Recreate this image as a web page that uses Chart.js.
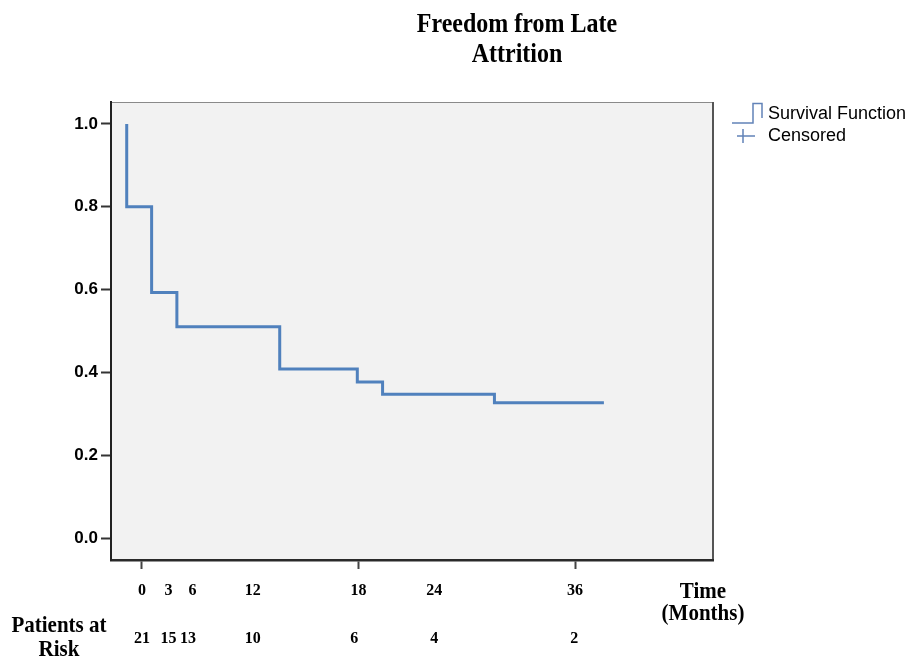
<!DOCTYPE html>
<html>
<head>
<meta charset="utf-8">
<script src="https://cdn.jsdelivr.net/npm/chart.js@4.4.0/dist/chart.umd.min.js"></script>
<style>
  html, body { margin: 0; padding: 0; background: #ffffff; }
  .container { width: 916px; height: 659px; }
</style>
</head>
<body>
<div class="container">
  <canvas id="km_chart" width="916" height="659"></canvas>
</div>
<script>
// step curve (time in months, survival)
const times = [-1.27, -1.27, 0.8, 2.9, 11.45, 17.9, 20.0, 29.3, 38.4]
const survival = [1.0, 0.8, 0.593, 0.51, 0.408, 0.377, 0.347, 0.327, 0.327]

// x labels as printed under the axis, and where they sit on the axis
const tickText = ['0', '3', '6', '12', '18', '24', '36']
const tickAt = [0, 2.2, 4.2, 9.2, 18, 24.3, 36]
const tickMarks = [0, 18, 36]

// patients at risk row
const riskText = ['21', '15', '13', '10', '6', '4', '2']
const riskAt = [0, 2.2, 3.82, 9.2, 17.65, 24.3, 35.94]

const yTicks = [0, 0.2, 0.4, 0.6, 0.8, 1.0]
const seriesNames = ['Survival Function', 'Censored']

const serif = '"Liberation Serif", "Times New Roman", serif'
const sans = '"Liberation Sans", Arial, sans-serif'

function tallText(c, text, x, y, sy) {
  c.save()
  c.translate(x, y)
  c.scale(1, sy)
  c.fillText(text, 0, 0)
  c.restore()
}

const extras = {
  id: 'extras',
  beforeDraw(chart) {
    const c = chart.ctx
    const a = chart.chartArea
    c.save()
    c.fillStyle = '#f2f2f2'
    c.fillRect(a.left, a.top, a.right - a.left, a.bottom - a.top)
    c.strokeStyle = '#8a8a8a'
    c.lineWidth = 1
    c.beginPath()
    c.moveTo(a.left, a.top + 0.5)
    c.lineTo(a.right, a.top + 0.5)
    c.stroke()
    c.strokeStyle = '#555555'
    c.lineWidth = 2
    c.beginPath()
    c.moveTo(a.right, a.top)
    c.lineTo(a.right, a.bottom)
    c.stroke()
    c.restore()
  },
  afterDraw(chart) {
    const c = chart.ctx
    const x = chart.scales.x
    c.save()
    c.fillStyle = '#000000'
    c.textAlign = 'center'
    c.textBaseline = 'alphabetic'

    // title
    c.font = 'bold 24px ' + serif
    tallText(c, 'Freedom from Late', 517, 31.5, 1.12)
    tallText(c, 'Attrition', 517, 61.5, 1.12)

    // patients at risk
    c.font = 'bold 16px ' + serif
    riskText.forEach((t, i) => {
      c.fillText(t, x.getPixelForValue(riskAt[i]), 643)
    })

    c.font = 'bold 21px ' + serif
    tallText(c, 'Patients at', 59, 631.5, 1.12)
    tallText(c, 'Risk', 59, 656, 1.12)
    tallText(c, 'Time', 703, 598, 1.12)
    tallText(c, '(Months)', 703, 620, 1.12)

    // legend
    c.strokeStyle = '#6283b8'
    c.lineWidth = 1.5
    c.beginPath()
    c.moveTo(732, 123)
    c.lineTo(753, 123)
    c.lineTo(753, 103.5)
    c.lineTo(762, 103.5)
    c.lineTo(762, 118)
    c.stroke()
    c.beginPath()
    c.moveTo(737, 136)
    c.lineTo(755, 136)
    c.moveTo(743, 129)
    c.lineTo(743, 143)
    c.stroke()

    c.textAlign = 'left'
    c.font = '18px ' + sans
    c.fillText(seriesNames[0], 768, 118.5)
    c.fillText(seriesNames[1], 768, 141)
    c.restore()
  }
}

const ctx = document.getElementById('km_chart')

new Chart(ctx, {
  type: 'line',
  data: {
    datasets: [
      {
        label: seriesNames[0],
        data: times.map((t, i) => ({ x: t, y: survival[i] })),
        stepped: 'before',
        borderColor: '#5081bd',
        borderWidth: 3,
        pointRadius: 0,
        fill: false
      },
      {
        label: seriesNames[1],
        data: [],
        pointStyle: 'cross',
        borderColor: '#5081bd',
        showLine: false
      }
    ]
  },
  options: {
    responsive: false,
    animation: false,
    layout: {
      padding: { top: 102, right: 203, left: 0, bottom: 0 }
    },
    plugins: {
      legend: { display: false },
      title: { display: false },
      tooltip: { enabled: false }
    },
    scales: {
      x: {
        type: 'linear',
        min: -2.577,
        max: 47.47,
        afterBuildTicks: scale => {
          scale.ticks = tickAt.map(v => ({ value: v }))
        },
        afterFit: scale => {
          scale.height = 99
        },
        ticks: {
          autoSkip: false,
          maxRotation: 0,
          padding: 12,
          color: '#000000',
          font: { family: serif, size: 16, weight: 'bold' },
          callback: (value, index) => tickText[index]
        },
        grid: {
          drawOnChartArea: false,
          color: 'transparent',
          tickLength: 9,
          tickWidth: 2,
          tickColor: c => tickMarks.includes(c.tick.value) ? '#444444' : 'transparent'
        },
        border: { color: '#2a2a2a', width: 2.5 }
      },
      y: {
        min: -0.053,
        max: 1.053,
        afterBuildTicks: scale => {
          scale.ticks = yTicks.map(v => ({ value: v }))
        },
        afterFit: scale => {
          scale.width = 111
        },
        ticks: {
          padding: 3,
          color: '#000000',
          font: { family: sans, size: 17, weight: 'bold' },
          callback: value => value.toFixed(1)
        },
        grid: {
          drawOnChartArea: false,
          tickLength: 10,
          tickWidth: 2,
          tickColor: '#333333'
        },
        border: { color: '#222222', width: 2 }
      }
    }
  },
  plugins: [extras]
})
</script>
</body>
</html>
